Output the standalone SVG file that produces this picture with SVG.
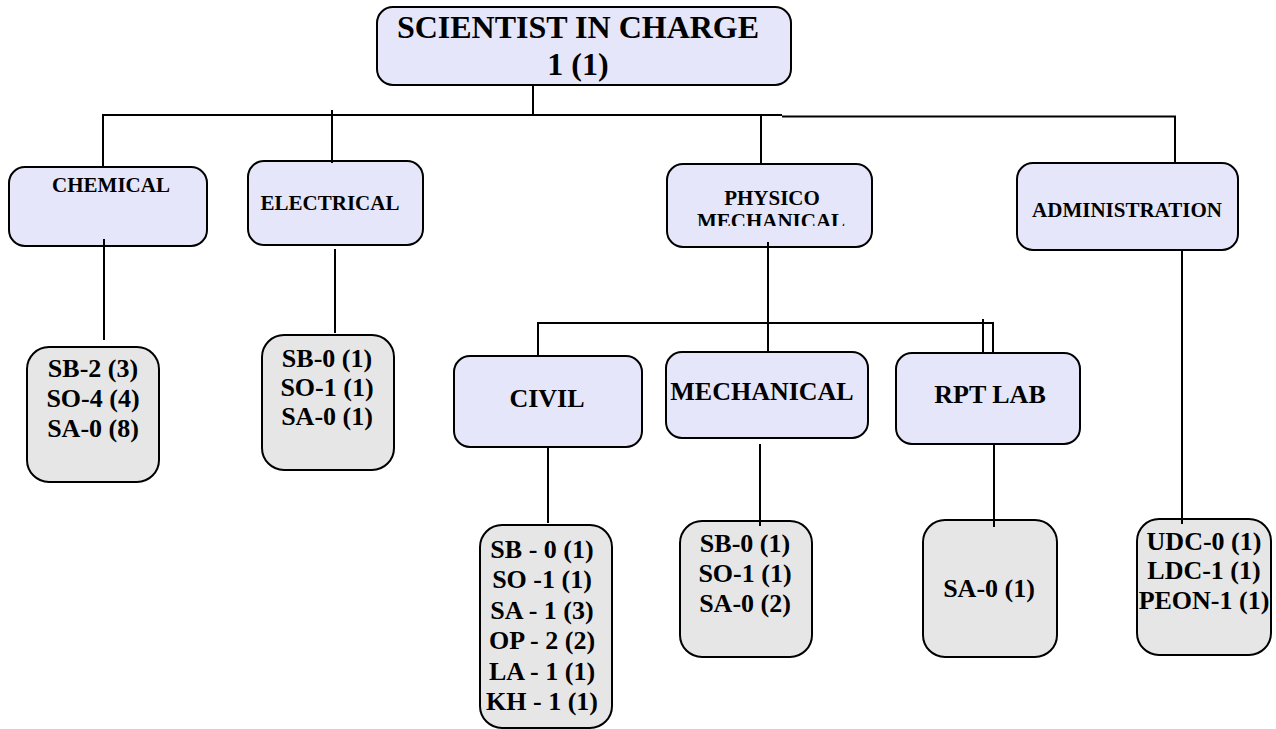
<svg xmlns="http://www.w3.org/2000/svg" width="1276" height="729" viewBox="0 0 1276 729">
<style>
.dept{fill:#e6e6fa;stroke:#000;stroke-width:2}
.leaf{fill:#e6e6e6;stroke:#000;stroke-width:2}
text{font-family:"Liberation Serif","Times New Roman",serif;font-weight:bold;fill:#000;text-anchor:middle}
.t32{font-size:32px}
.t26{font-size:26px}
.t21{font-size:21px}
.conn line{stroke:#000;stroke-width:2;fill:none}
</style>
<defs>
<clipPath id="physClip"><rect x="667" y="164" width="205" height="62"/></clipPath>
</defs>
<rect width="1276" height="729" fill="#fff"/>
<g id="n-top">
<rect class="dept" x="377" y="7" width="414" height="78" rx="16"/>
<text class="t32" x="578" y="38">SCIENTIST IN CHARGE</text>
<text class="t32" x="578" y="75">1 (1)</text>
</g>
<g id="n-chemical">
<rect class="dept" x="9" y="167" width="198" height="79" rx="16"/>
<text class="t21" x="111" y="192">CHEMICAL</text>
</g>
<g id="n-electrical">
<rect class="dept" x="248" y="161" width="175" height="84" rx="16"/>
<text class="t21" x="330" y="210">ELECTRICAL</text>
</g>
<g id="n-physico">
<rect class="dept" x="667" y="164" width="205" height="83" rx="16"/>
<g clip-path="url(#physClip)">
<text class="t21" x="772" y="205">PHYSICO</text>
<text class="t21" x="771" y="228">MECHANICAL</text>
</g>
</g>
<g id="n-admin">
<rect class="dept" x="1017" y="163" width="221" height="87" rx="16"/>
<text class="t21" x="1127" y="217">ADMINISTRATION</text>
</g>
<g id="n-civil">
<rect class="dept" x="454" y="356" width="188" height="91" rx="16"/>
<text class="t26" x="547" y="407">CIVIL</text>
</g>
<g id="n-mechanical">
<rect class="dept" x="666" y="352" width="202" height="86" rx="16"/>
<text class="t26" x="762" y="400">MECHANICAL</text>
</g>
<g id="n-rpt">
<rect class="dept" x="896" y="353" width="184" height="91" rx="16"/>
<text class="t26" x="990" y="403">RPT LAB</text>
</g>
<g id="l-chemical">
<rect class="leaf" x="27" y="347" width="132" height="135" rx="22"/>
<text class="t26" x="93" y="377">SB-2 (3)</text>
<text class="t26" x="93" y="407">SO-4 (4)</text>
<text class="t26" x="93" y="437">SA-0 (8)</text>
</g>
<g id="l-electrical">
<rect class="leaf" x="262" y="335" width="132" height="135" rx="22"/>
<text class="t26" x="327" y="367">SB-0 (1)</text>
<text class="t26" x="327" y="396">SO-1 (1)</text>
<text class="t26" x="327" y="425">SA-0 (1)</text>
</g>
<g id="l-civil">
<rect class="leaf" x="480" y="525" width="132" height="203" rx="22"/>
<text class="t26" x="542" y="558">SB - 0 (1)</text>
<text class="t26" x="542" y="588">SO -1 (1)</text>
<text class="t26" x="542" y="619">SA - 1 (3)</text>
<text class="t26" x="542" y="649">OP - 2 (2)</text>
<text class="t26" x="542" y="680">LA - 1 (1)</text>
<text class="t26" x="542" y="710">KH - 1 (1)</text>
</g>
<g id="l-mechanical">
<rect class="leaf" x="680" y="521" width="132" height="136" rx="22"/>
<text class="t26" x="745" y="552">SB-0 (1)</text>
<text class="t26" x="745" y="582">SO-1 (1)</text>
<text class="t26" x="745" y="612">SA-0 (2)</text>
</g>
<g id="l-rpt">
<rect class="leaf" x="923" y="520" width="134" height="137" rx="22"/>
<text class="t26" x="989" y="597">SA-0 (1)</text>
</g>
<g id="l-admin">
<rect class="leaf" x="1137" y="519" width="134" height="136" rx="22"/>
<text class="t26" x="1204" y="550">UDC-0 (1)</text>
<text class="t26" x="1204" y="579">LDC-1 (1)</text>
<text class="t26" x="1204" y="609">PEON-1 (1)</text>
</g>
<g id="connectors" class="conn">
<line x1="533" y1="85" x2="533" y2="115"/>
<line x1="102" y1="115" x2="782" y2="115"/>
<line x1="782" y1="116.5" x2="1176" y2="116.5"/>
<line x1="1175" y1="116" x2="1175" y2="163"/>
<line x1="103" y1="115" x2="103" y2="167"/>
<line x1="332" y1="110" x2="332" y2="163"/>
<line x1="761" y1="115" x2="761" y2="164"/>
<line x1="768" y1="242" x2="768" y2="352"/>
<line x1="538" y1="323" x2="994" y2="323"/>
<line x1="538" y1="322" x2="538" y2="356"/>
<line x1="993" y1="322" x2="993" y2="353"/>
<line x1="983" y1="319" x2="983" y2="352"/>
<line x1="104" y1="239" x2="104" y2="340"/>
<line x1="335" y1="249" x2="335" y2="333"/>
<line x1="548" y1="447" x2="548" y2="523"/>
<line x1="760" y1="444" x2="760" y2="526"/>
<line x1="994" y1="444" x2="994" y2="527"/>
<line x1="1182" y1="250" x2="1182" y2="524"/>
</g>
</svg>
